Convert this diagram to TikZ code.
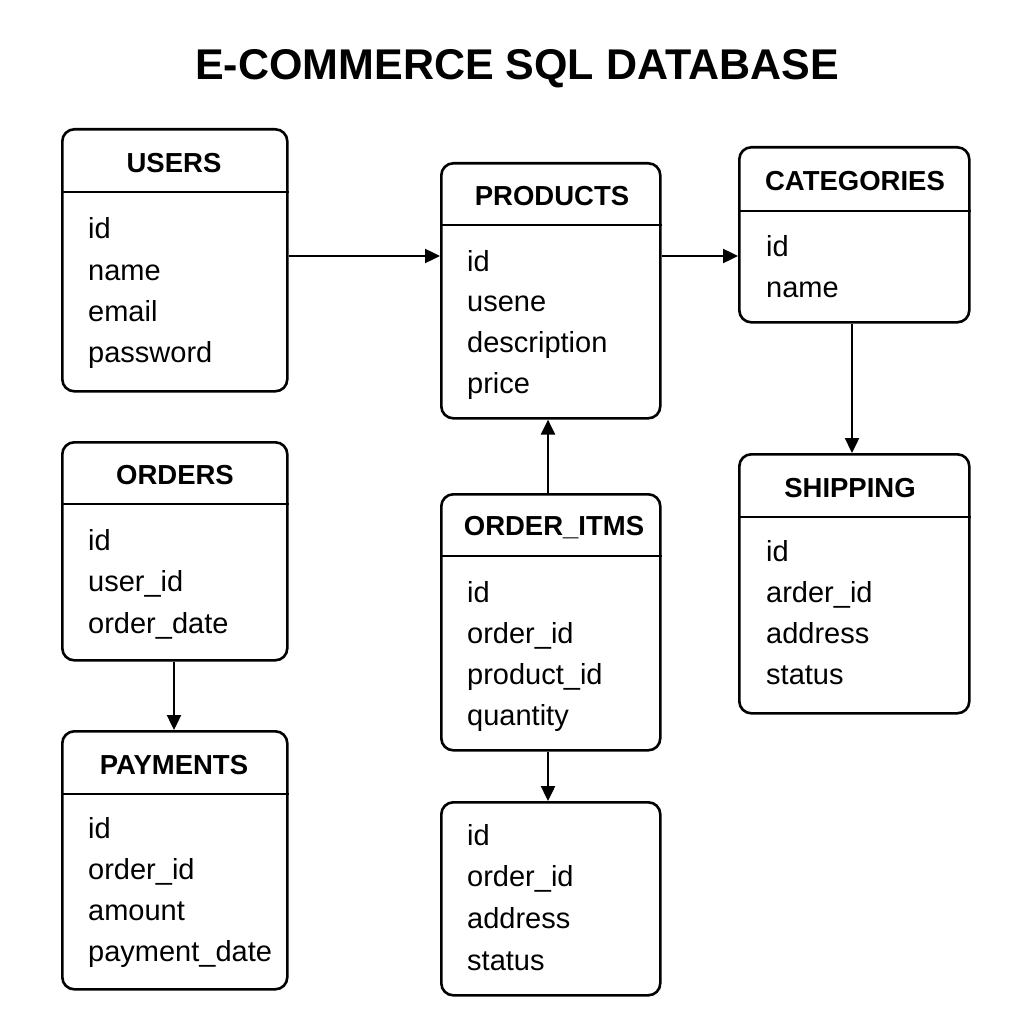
\documentclass[tikz,border=0pt]{standalone}
\usepackage{fontspec}
\setmainfont{Liberation Sans}
\usetikzlibrary{arrows.meta}
\begin{document}
\begin{tikzpicture}[x=1pt,y=-1pt,
  tbl/.style={draw, line width=2.6pt, rounded corners=12pt, inner sep=0pt, anchor=north west},
  hdr/.style={font=\fontsize{27.5}{30}\selectfont\bfseries, inner sep=0pt},
  fld/.style={font=\fontsize{29}{32}\selectfont, anchor=west, inner sep=0pt, text height=20pt, text depth=6pt},
  sep/.style={line width=2.6pt},
  conn/.style={line width=2.4pt, -{Triangle[length=15pt,width=14pt]}}]
\useasboundingbox (0,0) rectangle (1024,1024);
\fill[white] (0,0) rectangle (1024,1024);

\node[font=\fontsize{43}{48}\selectfont\bfseries] (title) at (517,69) {E-COMMERCE SQL DATABASE};

% USERS
\node[tbl, minimum width=225pt, minimum height=262pt] (users) at (61,128) {};
\draw[sep] (users.west |- 0,192) -- (users.east |- 0,192);
\node[hdr] (usersh) at (174,163) {USERS};
\foreach \t [count=\i] in {id,name,email,password}
  \node[fld] (users\i) at (88,{232+41.3*(\i-1)}) {\t};

% PRODUCTS
\node[tbl, minimum width=219pt, minimum height=255pt] (products) at (440,162) {};
\draw[sep] (products.west |- 0,225) -- (products.east |- 0,225);
\node[hdr] (productsh) at (552,196) {PRODUCTS};
\foreach \t [count=\i] in {id,usene,description,price}
  \node[fld] (products\i) at (467,{264+40.7*(\i-1)}) {\t};

% CATEGORIES
\node[tbl, minimum width=230pt, minimum height=175pt] (categories) at (738,146) {};
\draw[sep] (categories.west |- 0,211) -- (categories.east |- 0,211);
\node[hdr] (categoriesh) at (855,181) {CATEGORIES};
\foreach \t [count=\i] in {id,name}
  \node[fld] (categories\i) at (766,{249+41*(\i-1)}) {\t};

% ORDERS
\node[tbl, minimum width=225pt, minimum height=218pt] (orders) at (61,441) {};
\draw[sep] (orders.west |- 0,504) -- (orders.east |- 0,504);
\node[hdr] (ordersh) at (175,475) {ORDERS};
\foreach \t [count=\i] in {id,user\_id,order\_date}
  \node[fld] (orders\i) at (88,{543+41.5*(\i-1)}) {\t};

% ORDER_ITMS
\node[tbl, minimum width=219pt, minimum height=256pt] (items) at (440,493) {};
\draw[sep] (items.west |- 0,556) -- (items.east |- 0,556);
\node[hdr] (itemsh) at (554,528) {ORDER\_ITMS};
\foreach \t [count=\i] in {id,order\_id,product\_id,quantity}
  \node[fld] (items\i) at (467,{595+41*(\i-1)}) {\t};

% SHIPPING
\node[tbl, minimum width=230pt, minimum height=259pt] (shipping) at (738,453) {};
\draw[sep] (shipping.west |- 0,517) -- (shipping.east |- 0,517);
\node[hdr] (shippingh) at (850,488) {SHIPPING};
\foreach \t [count=\i] in {id,arder\_id,address,status}
  \node[fld] (shipping\i) at (766,{554+41.3*(\i-1)}) {\t};

% PAYMENTS
\node[tbl, minimum width=225pt, minimum height=258pt] (payments) at (61,730) {};
\draw[sep] (payments.west |- 0,794) -- (payments.east |- 0,794);
\node[hdr] (paymentsh) at (174,765) {PAYMENTS};
\foreach \t [count=\i] in {id,order\_id,amount,payment\_date}
  \node[fld] (payments\i) at (88,{831+41.3*(\i-1)}) {\t};

% bottom unnamed box
\node[tbl, minimum width=219pt, minimum height=193pt] (extra) at (440,801) {};
\foreach \t [count=\i] in {id,order\_id,address,status}
  \node[fld] (extra\i) at (467,{838+41.7*(\i-1)}) {\t};

% connectors
\coordinate (a1) at (286,256); \coordinate (a2) at (440,256);
\draw[conn] (users.east |- a1) -- (products.west |- a2);
\coordinate (b1) at (659,256);
\draw[conn] (products.east |- b1) -- (categories.west |- b1);
\draw[conn] (categories.south -| 852,0) -- (shipping.north -| 852,0);
\draw[conn] (items.north -| 548,0) -- (products.south -| 548,0);
\draw[conn] (items.south -| 548,0) -- (extra.north -| 548,0);
\draw[conn] (orders.south -| 174,0) -- (payments.north -| 174,0);
\end{tikzpicture}
\end{document}
